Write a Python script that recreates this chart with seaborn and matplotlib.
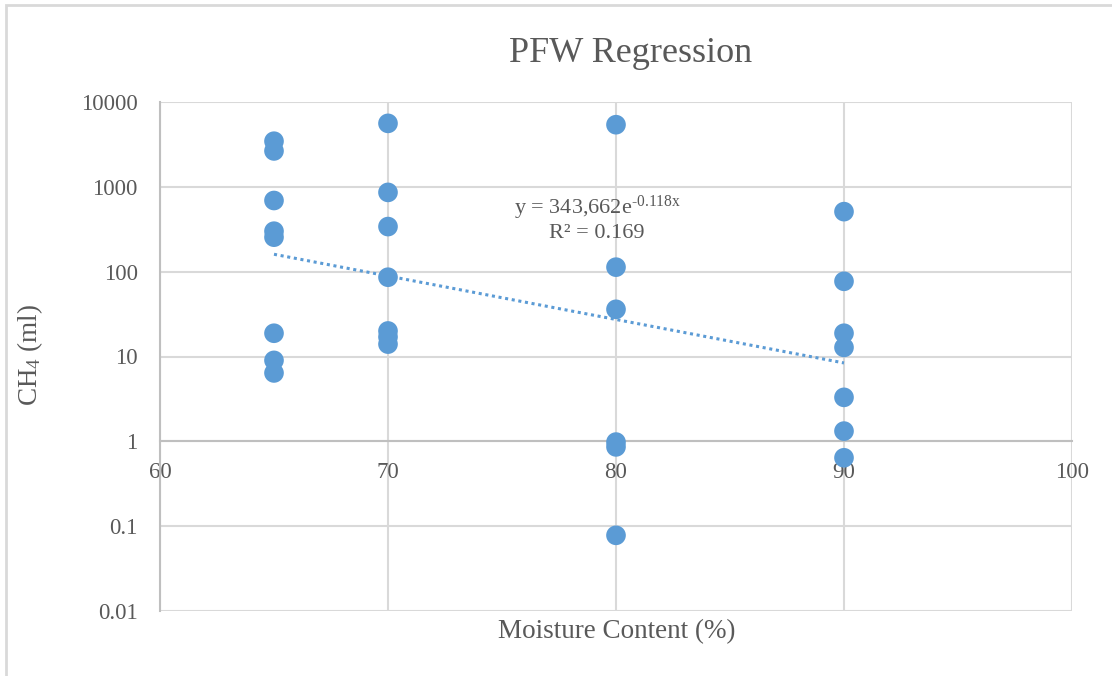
import numpy as np
import pandas as pd
import matplotlib
matplotlib.use("Agg")
import matplotlib.pyplot as plt
import seaborn as sns
from matplotlib.patches import Rectangle

# ---- data ----
moisture = [65, 65, 65, 65, 65, 65, 65, 65,
            70, 70, 70, 70, 70, 70, 70,
            80, 80, 80, 80, 80, 80,
            90, 90, 90, 90, 90, 90, 90]
ch4 = [3450, 2650, 690, 300, 255, 18.8, 9.0, 6.4,
       5600, 860, 340, 86, 20, 17, 14,
       5400, 113, 36, 0.98, 0.86, 0.078,
       510, 77, 18.8, 12.8, 3.3, 1.32, 0.64]
fit_a = 343662.0
fit_b = -0.118
fit_range = [65, 90]
x_ticks = [60, 70, 80, 90, 100]
y_ticks = [0.01, 0.1, 1, 10, 100, 1000, 10000]
y_tick_labels = ["0.01", "0.1", "1", "10", "100", "1000", "10000"]

df = pd.DataFrame({"moisture": moisture, "ch4": ch4})

sns.set_theme(style="white")
plt.rcParams["font.family"] = ["Liberation Serif", "DejaVu Serif"]
plt.rcParams["mathtext.fontset"] = "custom"
plt.rcParams["mathtext.rm"] = "Liberation Serif"
plt.rcParams["mathtext.it"] = "Liberation Serif:italic"

W, H = 1112, 676
fig = plt.figure(figsize=(W / 100, H / 100), dpi=100)
ax = fig.add_axes([160 / W, 1 - 611 / H, (1072 - 160) / W, (611 - 102) / H])

txt = "#595959"
grid = "#d9d9d9"
blue = "#5b9bd5"

sns.scatterplot(data=df, x="moisture", y="ch4", ax=ax, color=blue,
                s=200, edgecolor="none", zorder=3, legend=False)

xs = np.array(fit_range, dtype=float)
ax.plot(xs, fit_a * np.exp(fit_b * xs), linestyle=(0, (1, 1.2)),
        color=blue, linewidth=2.2, zorder=2)

ax.set_yscale("log")
ax.set_xlim(60, 100)
ax.set_ylim(0.01, 10000)
ax.set_xticks(x_ticks)
ax.set_xticklabels([str(t) for t in x_ticks])
ax.set_yticks(y_ticks)
ax.set_yticklabels(y_tick_labels)
ax.minorticks_off()

ax.grid(True, color=grid, linewidth=1.5, zorder=0)
ax.set_axisbelow(True)

for s in ["top", "right"]:
    ax.spines[s].set_visible(False)
ax.spines["left"].set_color("#bfbfbf")
ax.spines["left"].set_linewidth(1.5)
ax.spines["bottom"].set_position(("data", 1))
ax.spines["bottom"].set_color("#bfbfbf")
ax.spines["bottom"].set_linewidth(1.5)

ax.tick_params(axis="both", length=0, labelsize=16.5, labelcolor=txt)
ax.tick_params(axis="x", pad=15)
ax.tick_params(axis="y", pad=16)

ax.set_xlabel("")
ax.set_ylabel("")
fig.text(617 / W, 1 - 632 / H, "Moisture Content (%)", ha="center", va="center",
         fontsize=19.5, color=txt)
fig.text(30 / W, 1 - 355 / H, r"CH$\mathregular{_4}$ (ml)", ha="center", va="center",
         rotation=90, fontsize=19.5, color=txt)
fig.text(631 / W, 1 - 53 / H, "PFW Regression", ha="center", va="center",
         fontsize=26, color=txt)

fig.text(597 / W, 1 - 208 / H, "y = 343,662e$^{\\mathregular{\u20100.118x}}$",
         ha="center", va="center", fontsize=16, color=txt)
fig.text(597 / W, 1 - 233 / H, "R² = 0.169", ha="center", va="center",
         fontsize=16, color=txt)

fig.patches.append(Rectangle((6 / W, -0.1), 1.2, 1 - 5 / H + 0.1,
                             transform=fig.transFigure, fill=False,
                             edgecolor=grid, linewidth=2))

fig.savefig("out.png", dpi=100)
